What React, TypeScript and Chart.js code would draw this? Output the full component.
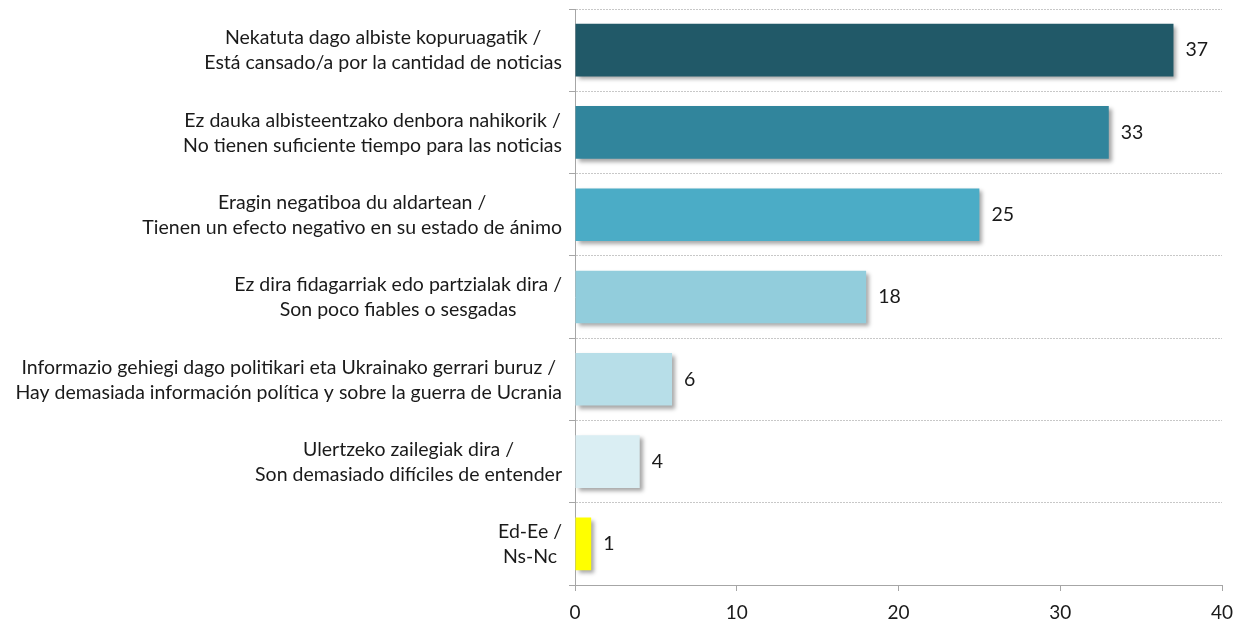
import React, { useEffect, useRef } from "react";
import { Chart, registerables } from "chart.js";

Chart.register(...registerables);

const categories: string[][] = [
  ["Nekatuta dago albiste kopuruagatik /", "Está cansado/a por la cantidad de noticias"],
  ["Ez dauka albisteentzako denbora nahikorik /", "No tienen suficiente tiempo para las noticias"],
  ["Eragin negatiboa du aldartean /", "Tienen un efecto negativo en su estado de ánimo"],
  ["Ez dira fidagarriak edo partzialak dira /", "Son poco fiables o sesgadas"],
  ["Informazio gehiegi dago politikari eta Ukrainako gerrari buruz /", "Hay demasiada información política y sobre la guerra de Ucrania"],
  ["Ulertzeko zailegiak dira /", "Son demasiado difíciles de entender"],
  ["Ed-Ee /", "Ns-Nc"],
];
const values: number[] = [37, 33, 25, 18, 6, 4, 1];
const barColors: string[] = ["#215968", "#31859C", "#4BACC6", "#92CDDC", "#B7DEE8", "#DAEEF3", "#FFFF00"];
const xTicks: number[] = [0, 10, 20, 30, 40];

const FONT_FAMILY = "Lato, 'Noto Sans', sans-serif";
const FONT_SIZE = 19.5;
const TEXT_COLOR = "#1a1a1a";

const shadowPlugin = {
  id: "barShadow",
  beforeDatasetsDraw(chart: any) {
    const ctx = chart.ctx;
    ctx.save();
    ctx.shadowColor = "rgba(0,0,0,0.35)";
    ctx.shadowBlur = 4;
    ctx.shadowOffsetX = 3;
    ctx.shadowOffsetY = 3;
  },
  afterDatasetsDraw(chart: any) {
    chart.ctx.restore();
  },
};

const labelPlugin = {
  id: "customLabels",
  afterDraw(chart: any) {
    const ctx = chart.ctx;
    const yScale = chart.scales.y;
    const xScale = chart.scales.x;
    ctx.save();
    ctx.font = `${FONT_SIZE}px ${FONT_FAMILY}`;
    ctx.fillStyle = TEXT_COLOR;
    ctx.textBaseline = "middle";
    const lineH = 25;
    const rightEdge = chart.chartArea.left - 13;
    categories.forEach((lines, i) => {
      const cy = yScale.getPixelForValue(i) + 0.5;
      const w = Math.max(...lines.map((l) => ctx.measureText(l).width));
      const cx = rightEdge - w / 2;
      ctx.textAlign = "center";
      lines.forEach((l, j) => {
        const y = cy + (j - (lines.length - 1) / 2) * lineH;
        ctx.fillText(l, cx, y);
      });
    });
    const meta = chart.getDatasetMeta(0);
    ctx.textAlign = "left";
    meta.data.forEach((bar: any, i: number) => {
      const x = xScale.getPixelForValue(values[i]);
      ctx.fillText(String(values[i]), x + 12, bar.y);
    });
    ctx.restore();
  },
};

export default function App() {
  const ref = useRef<HTMLCanvasElement | null>(null);
  useEffect(() => {
    if (!ref.current) return;
    const chart = new Chart(ref.current, {
      type: "bar",
      data: {
        labels: categories.map((c) => c.join(" ")),
        datasets: [
          {
            data: values,
            backgroundColor: barColors,
            borderWidth: 0,
            barPercentage: 0.64,
            categoryPercentage: 1,
          },
        ],
      },
      plugins: [shadowPlugin, labelPlugin],
      options: {
        indexAxis: "y",
        animation: false,
        responsive: false,
        maintainAspectRatio: false,
        layout: { padding: { top: 9, right: 25, bottom: 0, left: 0 } },
        plugins: {
          legend: { display: false },
          tooltip: { enabled: false },
        },
        scales: {
          x: {
            min: 0,
            max: 40,
            afterFit: (scale: any) => {
              scale.height = 35;
            },
            afterBuildTicks: (scale: any) => {
              scale.ticks = xTicks.map((v) => ({ value: v }));
            },
            grid: {
              display: true,
              drawOnChartArea: false,
              drawTicks: true,
              tickLength: 6,
              color: "#a6a6a6",
            },
            border: { display: true, color: "#a6a6a6", width: 1 },
            ticks: {
              padding: 10,
              color: TEXT_COLOR,
              font: { family: FONT_FAMILY, size: 19 },
            },
          },
          y: {
            afterFit: (scale: any) => {
              scale.width = 575;
            },
            grid: {
              display: true,
              offset: true,
              drawTicks: true,
              tickLength: 6,
              color: "#c8c8c8",
              tickColor: "#a6a6a6",
            },
            border: { display: true, color: "#a6a6a6", width: 1, dash: [2, 1] },
            ticks: { display: false },
          },
        },
      },
    });
    return () => chart.destroy();
  }, []);
  return (
    <div style={{ position: "fixed", left: 0, top: 0, width: 1247, height: 620, background: "#fff" }}>
      <canvas ref={ref} width={1247} height={620} style={{ width: 1247, height: 620 }} />
    </div>
  );
}
